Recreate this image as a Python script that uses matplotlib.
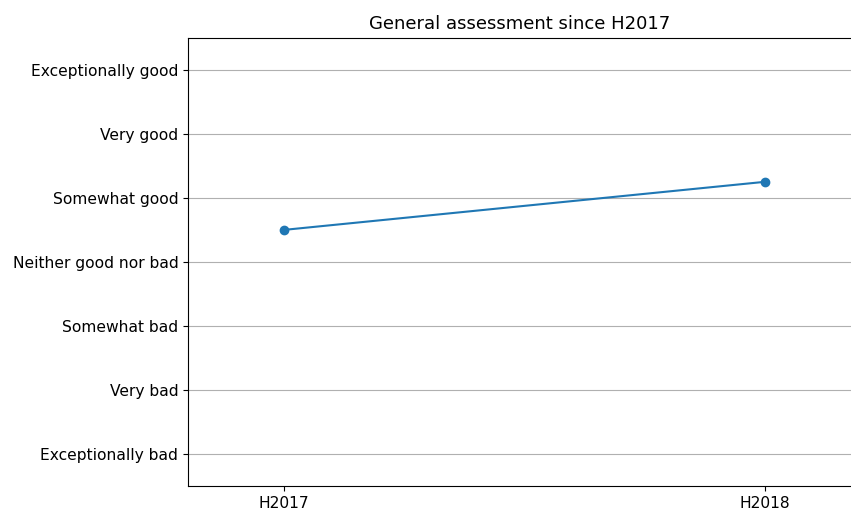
import matplotlib
matplotlib.use('Agg')
from matplotlib import pyplot as plt

# rating scale, lowest to highest
levels = ["Exceptionally bad", "Very bad", "Somewhat bad", "Neither good nor bad",
          "Somewhat good", "Very good", "Exceptionally good"]
periods = ["H2017", "H2018"]
scores = [4.5, 5.25]

fig = plt.figure(figsize=(8.51, 5.11), dpi=100)
ax = fig.add_axes([0.221, 0.049, 0.779, 0.877])

xs = list(range(len(periods)))
ax.plot(xs, scores, marker='o', color='#1f77b4')

ax.set_yticks(range(1, len(levels) + 1))
ax.set_yticklabels(levels, fontsize=11.2)
ax.set_xticks(xs)
ax.set_xticklabels(periods, fontsize=11.2)
ax.set_ylim(0.5, 7.5)
ax.set_xlim(-0.2, 1.18)
ax.grid(axis='y', color='#b0b0b0')
ax.set_axisbelow(True)
ax.spines['right'].set_visible(False)
ax.set_title("General assessment since H2017", fontsize=13)

fig.savefig('out.png', dpi=100)
